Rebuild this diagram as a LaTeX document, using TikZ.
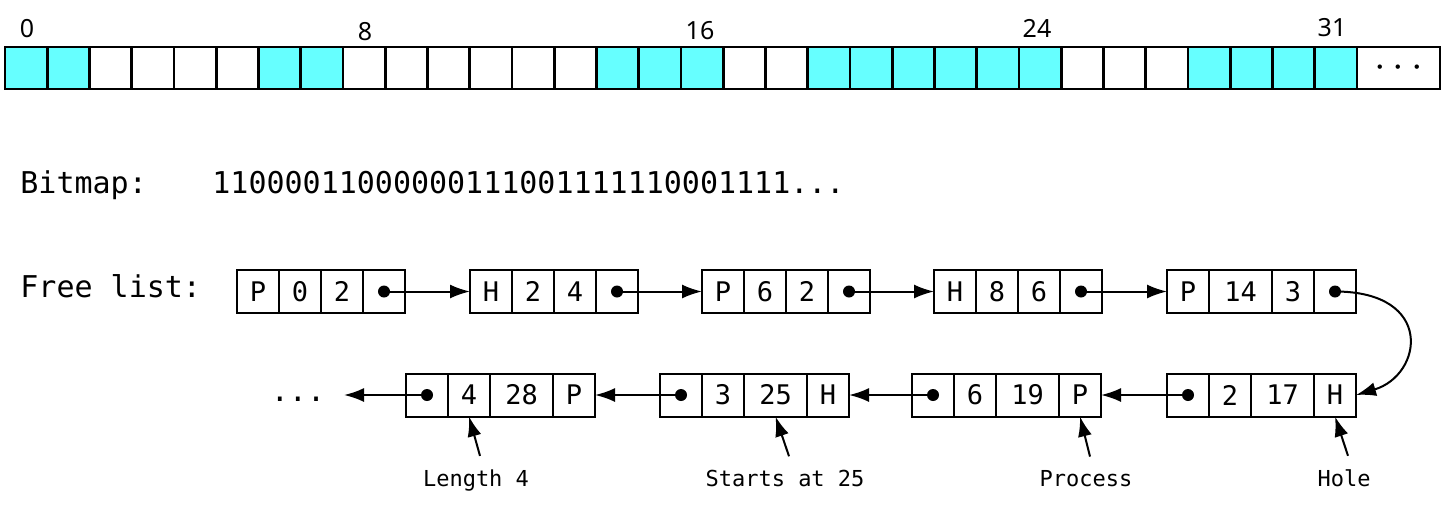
\documentclass[tikz,border=0pt]{standalone}
\usepackage{fontspec}
\setmainfont{Noto Sans}
\setmonofont{DejaVu Sans Mono}
\usetikzlibrary{positioning,arrows.meta}
\definecolor{bitcyan}{RGB}{102,255,255}

\begin{document}
\begin{tikzpicture}[x=0.5pt,y=0.5pt,
    cell/.style={draw, line width=1.4pt, minimum width=21.125pt, minimum height=21pt, outer sep=0pt},
    bit1/.style={fill=bitcyan},
    bit0/.style={fill=white},
    field/.style={draw, line width=1pt, minimum width=21pt, minimum height=21.5pt, outer sep=0pt,
        font=\ttfamily\fontsize{13.5}{15}\selectfont},
    wide/.style={field, minimum width=31.5pt},
    link/.style={line width=1pt, -{Latex[length=10pt,width=7pt]}},
    big/.style={font=\ttfamily\fontsize{15}{18}\selectfont},
    note/.style={font=\ttfamily\fontsize{11}{13}\selectfont, anchor=base}]
    \tikzstyle{every node}+=[inner sep=0pt]
    \useasboundingbox (0,0) rectangle (1443,-509);
    % bitmap cells
    \foreach \b [count=\i from 0] in {1,1,0,0,0,0,1,1,0,0,0,0,0,0,1,1,1,0,0,1,1,1,1,1,1,0,0,0,1,1,1,1}
        \node[cell, bit\b] (c\i) at ({26.125+42.25*\i},-68) {};
    \node[cell, minimum width=41.5pt, font=\fontsize{22}{24}\selectfont] (cmore) at (1398.5,-68) {$\cdots$};
    \node[font=\fontsize{12.5}{14}\selectfont] (lbl0) at (27,-29) {0};
    \node[font=\fontsize{12.5}{14}\selectfont] (lbl8) at (365,-32) {8};
    \node[font=\fontsize{12.5}{14}\selectfont] (lbl16) at (700,-31) {16};
    \node[font=\fontsize{12.5}{14}\selectfont] (lbl24) at (1037,-28) {24};
    \node[font=\fontsize{12.5}{14}\selectfont] (lbl31) at (1332,-28) {31};
    % bitmap as text
    \node[big, anchor=base west] (bmname) at (20,-193) {Bitmap:};
    \node[big, anchor=base west] (bmbits) at (212,-193) {11000011000000111001111110001111...};
    \node[big, anchor=base west] (flname) at (20,-297) {Free list:};
    % free list, first row
    \node[field, anchor=west] (n1t) at (237,-291.5) {P};
    \node[field, right=0pt of n1t] (n1s) {0};
    \node[field, right=0pt of n1s] (n1l) {2};
    \node[field, right=0pt of n1l] (n1n) {};
    \node[field, anchor=west] (n2t) at (470,-291.5) {H};
    \node[field, right=0pt of n2t] (n2s) {2};
    \node[field, right=0pt of n2s] (n2l) {4};
    \node[field, right=0pt of n2l] (n2n) {};
    \node[field, anchor=west] (n3t) at (702,-291.5) {P};
    \node[field, right=0pt of n3t] (n3s) {6};
    \node[field, right=0pt of n3s] (n3l) {2};
    \node[field, right=0pt of n3l] (n3n) {};
    \node[field, anchor=west] (n4t) at (934,-291.5) {H};
    \node[field, right=0pt of n4t] (n4s) {8};
    \node[field, right=0pt of n4s] (n4l) {6};
    \node[field, right=0pt of n4l] (n4n) {};
    \node[field, anchor=west] (n5t) at (1167,-291.5) {P};
    \node[wide, right=0pt of n5t] (n5s) {14};
    \node[field, right=0pt of n5s] (n5l) {3};
    \node[field, right=0pt of n5l] (n5n) {};
    % second row, right to left
    \node[field, anchor=west] (n6n) at (1167,-395) {};
    \node[field, right=0pt of n6n] (n6l) {2};
    \node[wide, right=0pt of n6l] (n6s) {17};
    \node[field, right=0pt of n6s] (n6t) {H};
    \node[field, anchor=west] (n7n) at (912,-395) {};
    \node[field, right=0pt of n7n] (n7l) {6};
    \node[wide, right=0pt of n7l] (n7s) {19};
    \node[field, right=0pt of n7s] (n7t) {P};
    \node[field, anchor=west] (n8n) at (660,-395) {};
    \node[field, right=0pt of n8n] (n8l) {3};
    \node[wide, right=0pt of n8l] (n8s) {25};
    \node[field, right=0pt of n8s] (n8t) {H};
    \node[field, anchor=west] (n9n) at (406,-395) {};
    \node[field, right=0pt of n9n] (n9l) {4};
    \node[wide, right=0pt of n9l] (n9s) {28};
    \node[field, right=0pt of n9s] (n9t) {P};
    \node[big] (ellip) at (298,-399) {...};
    \coordinate (more) at (344,-395);
    % pointers
    \draw[link] (n1n.center) -- (n2t.west);
    \draw[link] (n2n.center) -- (n3t.west);
    \draw[link] (n3n.center) -- (n4t.west);
    \draw[link] (n4n.center) -- (n5t.west);
    \draw[link] (n5n.center) .. controls +(100,0) and +(67,20) .. (n6t.east);
    \draw[link] (n6n.center) -- (n7t.east);
    \draw[link] (n7n.center) -- (n8t.east);
    \draw[link] (n8n.center) -- (n9t.east);
    \draw[link] (n9n.center) -- (more);
    \foreach \n in {n1n,n2n,n3n,n4n,n5n,n6n,n7n,n8n,n9n}
        \fill (\n.center) circle (3pt);
    % notes
    \node[note] (nlen) at (476,-486) {Length 4};
    \node[note] (nstart) at (785,-486) {Starts at 25};
    \node[note] (nproc) at (1086,-486) {Process};
    \node[note] (nhole) at (1344,-486) {Hole};
    \draw[link] ([shift={(2pt,6.5pt)}]nlen.north) -- (n9l.south);
    \draw[link] ([shift={(2pt,6.5pt)}]nstart.north) -- (n8s.south);
    \draw[link] ([shift={(2pt,6.5pt)}]nproc.north) -- (n7t.south);
    \draw[link] ([shift={(2pt,6.5pt)}]nhole.north) -- (n6t.south);
\end{tikzpicture}
\end{document}
